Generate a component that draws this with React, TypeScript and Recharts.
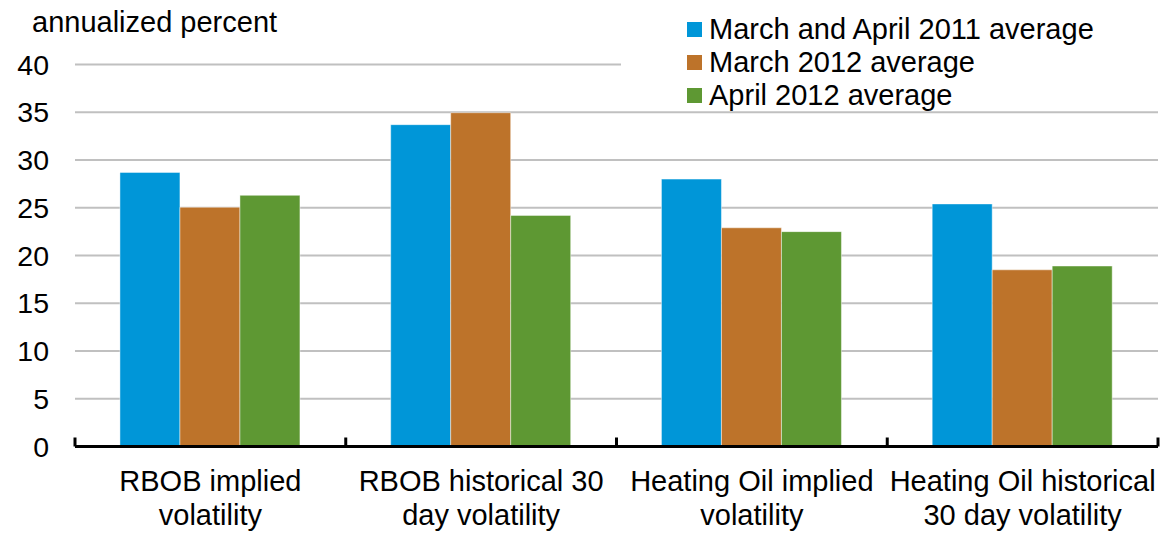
import React from "react";
import { BarChart, Bar, XAxis, YAxis, CartesianGrid } from "recharts";

const categories = [
  "RBOB implied\nvolatility",
  "RBOB historical 30\nday volatility",
  "Heating Oil implied\nvolatility",
  "Heating Oil historical\n30 day volatility",
];
const marApr2011 = [28.7, 33.7, 28.0, 25.4];
const mar2012 = [25.05, 34.95, 22.9, 18.5];
const apr2012 = [26.3, 24.2, 22.5, 18.9];
const yTicks = [0, 5, 10, 15, 20, 25, 30, 35, 40];
const seriesNames = [
  "March and April 2011 average",
  "March 2012 average",
  "April 2012 average",
];
const seriesKeys = ["a", "b", "c"];
const seriesColors = ["#0096d8", "#bd732a", "#5e9833"];
const yTitle = "annualized percent";

const FONT = '"Liberation Sans", Arial, sans-serif';

const data = categories.map((name, i) => ({
  name,
  a: marApr2011[i],
  b: mar2012[i],
  c: apr2012[i],
}));

const CatTick = (props: any) => {
  const { x, y, payload, index, width, visibleTicksCount } = props;
  const count = visibleTicksCount || categories.length;
  const off =
    payload && typeof payload.offset === "number" && payload.offset > 0
      ? payload.offset
      : width / (2 * count);
  const lines = String(payload.value).split("\n");
  return (
    <g>
      <line x1={x - off} x2={x - off} y1={y} y2={y - 9} stroke="#000" strokeWidth={3} />
      {index === count - 1 && (
        <line x1={x + off} x2={x + off} y1={y} y2={y - 9} stroke="#000" strokeWidth={3} />
      )}
      <text x={x} y={y} textAnchor="middle" fontSize={29} fill="#000" fontFamily={FONT}>
        {lines.map((l, i) => (
          <tspan key={i} x={x} dy={i === 0 ? 44.5 : 34}>
            {l}
          </tspan>
        ))}
      </text>
    </g>
  );
};

export default function App() {
  return (
    <div style={{ position: "absolute", left: 0, top: 0, width: 1162, height: 533, background: "#fff", fontFamily: FONT }}>
      <BarChart
        width={1162}
        height={533}
        data={data}
        margin={{ top: 64.5, right: 4, left: 0, bottom: 0 }}
        barGap={0}
        barCategoryGap="16.6%"
      >
        <CartesianGrid vertical={false} stroke="#c0c0c0" strokeWidth={2} />
        <YAxis
          width={75}
          domain={[0, 40]}
          ticks={yTicks}
          axisLine={false}
          tickLine={false}
          tickSize={0}
          tickMargin={26}
          tick={{ fontSize: 28.5, fill: "#000", fontFamily: FONT }}
          interval={0}
        />
        <XAxis
          dataKey="name"
          height={86.5}
          axisLine={{ stroke: "#000", strokeWidth: 3 }}
          tickLine={false}
          tickSize={0}
          tickMargin={0}
          interval={0}
          tick={<CatTick />}
        />
        {seriesKeys.map((k, i) => (
          <Bar
            key={k}
            dataKey={k}
            name={seriesNames[i]}
            fill={seriesColors[i]}
            stroke="rgba(255,255,255,0.45)"
            strokeWidth={1}
            isAnimationActive={false}
          />
        ))}
      </BarChart>
      <div
        style={{
          position: "absolute",
          left: 32,
          top: 7.5,
          fontSize: 29,
          lineHeight: "29px",
          color: "#000",
          whiteSpace: "nowrap",
        }}
      >
        {yTitle}
      </div>
      <div
        style={{
          position: "absolute",
          left: 621,
          top: 12.5,
          width: 541,
          height: 97,
          background: "#fff",
        }}
      >
        {seriesNames.map((n, i) => (
          <div key={n} style={{ display: "flex", alignItems: "center", height: 33 }}>
            <div style={{ width: 15, height: 15, background: seriesColors[i], marginLeft: 66, marginRight: 7 }} />
            <span style={{ fontSize: 29, lineHeight: "33px", color: "#000", whiteSpace: "nowrap" }}>{n}</span>
          </div>
        ))}
      </div>
    </div>
  );
}
